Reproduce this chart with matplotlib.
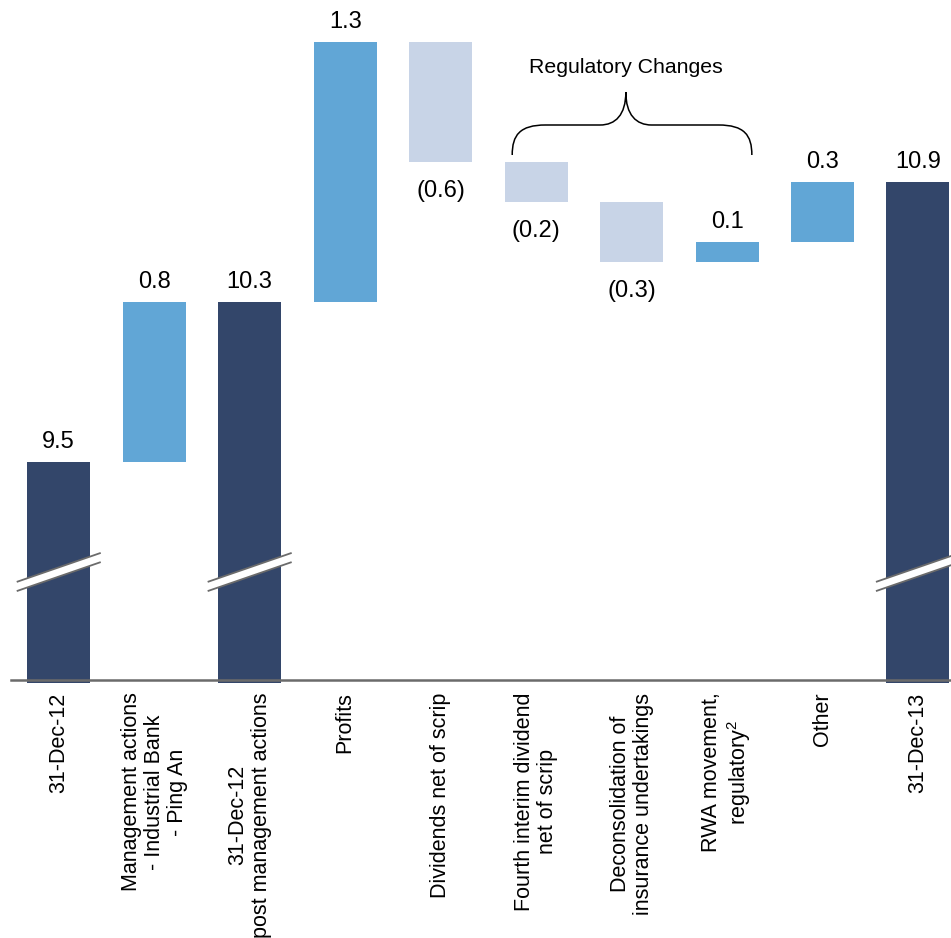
import numpy as np
import matplotlib
matplotlib.use("Agg")
import matplotlib.pyplot as plt
from matplotlib.path import Path
from matplotlib.patches import PathPatch, Polygon

plt.rcParams["font.family"] = ["Liberation Sans", "DejaVu Sans"]
plt.rcParams["mathtext.fontset"] = "custom"
plt.rcParams["mathtext.rm"] = "Liberation Sans"
plt.rcParams["mathtext.default"] = "regular"

# ---- data -------------------------------------------------------------
categories = [
    "31-Dec-12",
    "Management actions\n- Industrial Bank\n- Ping An",
    "31-Dec-12\npost management actions",
    "Profits",
    "Dividends net of scrip",
    "Fourth interim dividend\nnet of scrip",
    "Deconsolidation of\ninsurance undertakings",
    "RWA movement,\nregulatory$^2$",
    "Other",
    "31-Dec-13",
]
kinds = ["total", "delta", "total", "delta", "delta",
         "delta", "delta", "delta", "delta", "total"]
values = [9.5, 0.8, 10.3, 1.3, -0.6, -0.2, -0.3, 0.1, 0.3, 10.9]
regulatory_group = (5, 7)  # first and last bar under the brace
group_title = "Regulatory Changes"

# ---- styling ----------------------------------------------------------
DARK = "#33466a"
UP = "#61a6d6"
DOWN = "#c8d4e7"
AXIS_GRAY = "#6b6b6b"
Y_MIN, Y_MAX = 8.41, 11.81
BAR_W = 0.66
BREAK_Y = 8.95

fig = plt.figure(figsize=(9.51, 9.38), dpi=100)
ax = fig.add_axes([11 / 951, 258 / 938, 940 / 951, 680 / 938])
ax.set_xlim(-0.5, 9.346)
ax.set_ylim(Y_MIN, Y_MAX)
for s in ("top", "right", "left"):
    ax.spines[s].set_visible(False)
ax.spines["bottom"].set_color(AXIS_GRAY)
ax.spines["bottom"].set_linewidth(1.8)
ax.spines["bottom"].set_zorder(5)
ax.set_yticks([])
ax.set_xticks([])

x = np.arange(len(values))
level = 0.0
tops = []
for i, (k, v) in enumerate(zip(kinds, values)):
    if k == "total":
        bottom, height, color = Y_MIN - 0.015, v - (Y_MIN - 0.015), DARK
        level = v
        top, label, below = v, f"{v:.1f}", False
    else:
        bottom, height = level, v
        color = UP if v > 0 else DOWN
        new_level = level + v
        top = max(level, new_level)
        low = min(level, new_level)
        level = new_level
        below = v < 0
        label = f"({abs(v):.1f})" if v < 0 else f"{v:.1f}"
    ax.bar(x[i], height, bottom=bottom, width=BAR_W, color=color,
           edgecolor="none", zorder=2, clip_on=False)
    if below:
        ax.annotate(label, (x[i], low), xytext=(0, -13), textcoords="offset points",
                    ha="center", va="top", fontsize=17, color="black")
    else:
        ax.annotate(label, (x[i], top), xytext=(0, 9.8), textcoords="offset points",
                    ha="center", va="baseline", fontsize=17, color="black")

    # category label, rotated under the axis
    ax.annotate(categories[i], (x[i], Y_MIN), xytext=(0, -9), textcoords="offset points",
                rotation=90, ha="center", va="top", fontsize=15.5,
                linespacing=1.12, multialignment="center", annotation_clip=False)

    # axis-break marks on the total bars
    if k == "total":
        hw, rise, gap = 0.44, 0.0725, 0.023
        xa, xb = x[i] - hw, x[i] + hw
        ya, yb = BREAK_Y - rise, BREAK_Y + rise
        poly = Polygon([(xa, ya - gap), (xb, yb - gap), (xb, yb + gap), (xa, ya + gap)],
                       closed=True, facecolor="white", edgecolor="none",
                       zorder=3, clip_on=False)
        ax.add_patch(poly)
        for off in (-gap, gap):
            ax.plot([xa, xb], [ya + off, yb + off], color=AXIS_GRAY, lw=1.3,
                    zorder=4, clip_on=False, solid_capstyle="butt")

# ---- brace over the regulatory changes --------------------------------
i0, i1 = regulatory_group
bx0 = x[i0] - BAR_W / 2 + 0.08
bx1 = x[i1] + BAR_W / 2 - 0.07
bmid = (x[i0] + x[i1]) / 2 - 0.06
y_end, y_flat, y_tip = 11.035, 11.185, 11.35
cw, tw = 0.35, 0.27
verts = [
    (bx0, y_end),
    (bx0, y_end + 0.10), (bx0 + 0.08, y_flat), (bx0 + cw, y_flat),
    (bmid - tw, y_flat),
    (bmid - 0.11, y_flat), (bmid, y_flat + 0.05), (bmid, y_tip),
    (bmid, y_flat + 0.05), (bmid + 0.11, y_flat), (bmid + tw, y_flat),
    (bx1 - cw, y_flat),
    (bx1 - 0.08, y_flat), (bx1, y_end + 0.10), (bx1, y_end),
]
codes = [Path.MOVETO,
         Path.CURVE4, Path.CURVE4, Path.CURVE4,
         Path.LINETO,
         Path.CURVE4, Path.CURVE4, Path.CURVE4,
         Path.CURVE4, Path.CURVE4, Path.CURVE4,
         Path.LINETO,
         Path.CURVE4, Path.CURVE4, Path.CURVE4]
ax.add_patch(PathPatch(Path(verts, codes), facecolor="none", edgecolor="black",
                       lw=1.1, zorder=3))
ax.text(bmid, 11.445, group_title, ha="center", va="baseline", fontsize=15.3)

fig.savefig("out.png", dpi=100)
